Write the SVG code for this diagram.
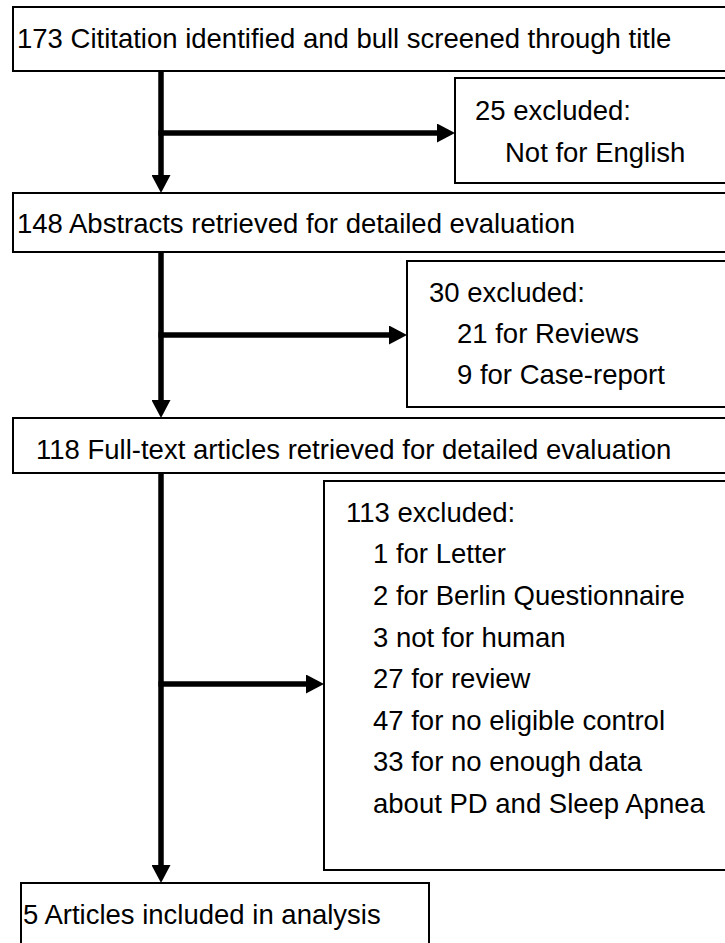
<svg xmlns="http://www.w3.org/2000/svg" width="725" height="943" viewBox="0 0 725 943">
<style>
.box{fill:#fff;stroke:#000;stroke-width:2}
.t{font-family:"Liberation Sans",Arial,sans-serif;font-size:27.5px;fill:#000}
.c{stroke:#000;stroke-width:5.5;fill:none}
</style>
<defs>
<marker id="ah" markerUnits="userSpaceOnUse" markerWidth="18" markerHeight="19" refX="8" refY="9.5" orient="auto">
<path d="M0,0 L18,9.5 L0,19 z" fill="#000"/>
</marker>
</defs>
<rect width="725" height="943" fill="#fff"/>
<g id="n1"><rect class="box" x="13" y="7" width="730" height="64"/><text class="t" x="17" y="48">173 Cititation identified and bull screened through title</text></g>
<g id="n2"><rect class="box" x="455" y="78" width="300" height="105"/><text class="t" x="475" y="120">25 excluded:</text><text class="t" x="505" y="162">Not for English</text></g>
<g id="n3"><rect class="box" x="13" y="193" width="730" height="59"/><text class="t" x="17" y="233">148 Abstracts retrieved for detailed evaluation</text></g>
<g id="n4"><rect class="box" x="407" y="261" width="350" height="146"/><text class="t" x="429" y="302">30 excluded:</text><text class="t" x="457" y="343">21 for Reviews</text><text class="t" x="457" y="384">9 for Case-report</text></g>
<g id="n5"><rect class="box" x="13" y="418" width="730" height="55"/><text class="t" x="36" y="459">118 Full-text articles retrieved for detailed evaluation</text></g>
<g id="n6"><rect class="box" x="324" y="481" width="450" height="389"/>
<text class="t" x="346" y="522">113 excluded:</text>
<text class="t" x="373" y="563">1 for Letter</text>
<text class="t" x="373" y="605">2 for Berlin Questionnaire</text>
<text class="t" x="373" y="647">3 not for human</text>
<text class="t" x="373" y="688">27 for review</text>
<text class="t" x="373" y="730">47 for no eligible control</text>
<text class="t" x="373" y="771">33 for no enough data</text>
<text class="t" x="373" y="813">about PD and Sleep Apnea</text></g>
<g id="n7"><rect class="box" x="21" y="883" width="408" height="80"/><text class="t" x="23" y="924">5 Articles included in analysis</text></g>
<g id="connectors">
<line class="c" x1="161" y1="71" x2="161" y2="183" marker-end="url(#ah)"/>
<line class="c" x1="158.5" y1="133" x2="445" y2="133" marker-end="url(#ah)"/>
<line class="c" x1="161" y1="252" x2="161" y2="408" marker-end="url(#ah)"/>
<line class="c" x1="158.5" y1="335" x2="397" y2="335" marker-end="url(#ah)"/>
<line class="c" x1="161" y1="473" x2="161" y2="873" marker-end="url(#ah)"/>
<line class="c" x1="158.5" y1="684" x2="314" y2="684" marker-end="url(#ah)"/>
</g>
</svg>
